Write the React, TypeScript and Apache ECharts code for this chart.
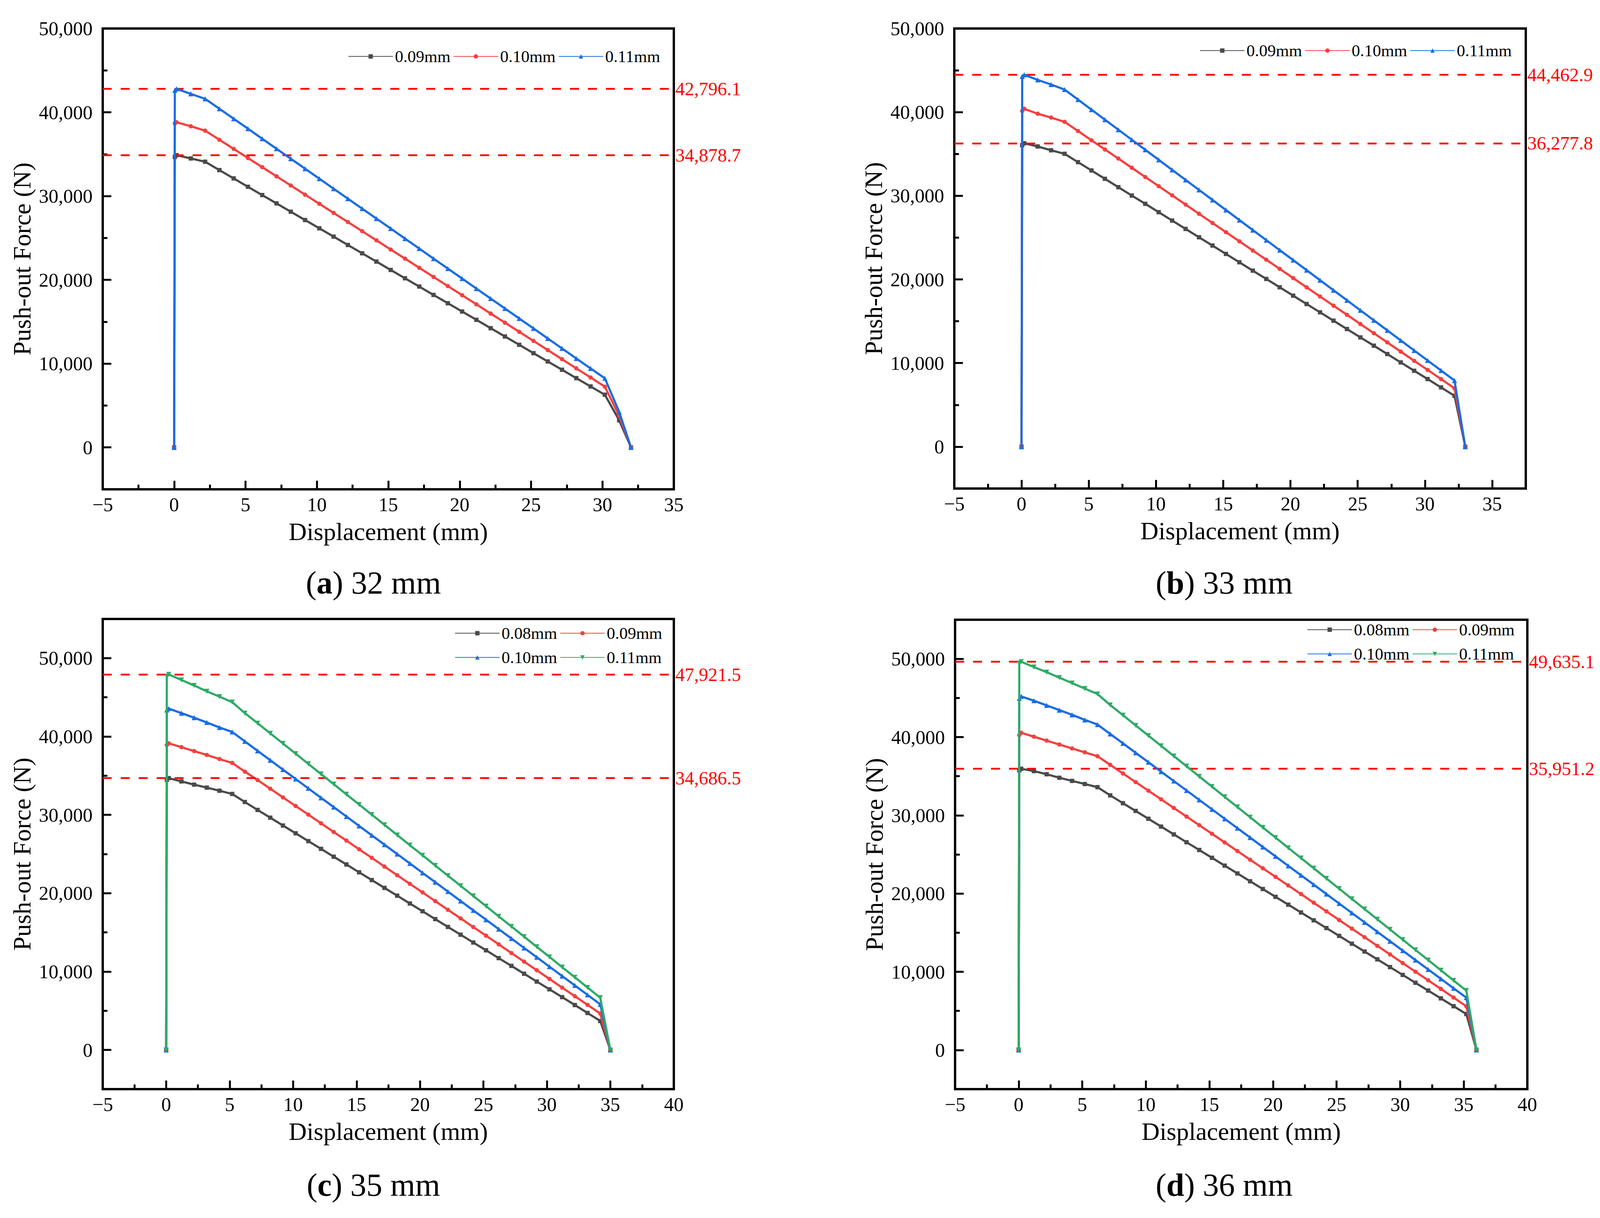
import React, { useEffect, useRef } from 'react';
import * as echarts from 'echarts';

const FONT = 'Liberation Serif';

// ---------- (a) 32 mm ----------
const namesA = ['0.09mm', '0.10mm', '0.11mm'];
const xA = [0, 0.05, 0.17, 1.17, 2.17, 3.17, 4.17, 5.17, 6.17, 7.17, 8.17, 9.17, 10.17, 11.17, 12.17, 13.17, 14.17, 15.17, 16.17, 17.17, 18.17, 19.17, 20.17, 21.17, 22.17, 23.17, 24.17, 25.17, 26.17, 27.17, 28.17, 29.17, 30.17, 31.17, 32];
const a009 = [0, 34670, 34879, 34490, 34100, 33100, 32110, 31110, 30120, 29130, 28130, 27140, 26150, 25160, 24160, 23170, 22180, 21180, 20190, 19200, 18200, 17210, 16220, 15230, 14230, 13240, 12250, 11250, 10260, 9270, 8270, 7280, 6290, 3240, 0];
const a010 = [0, 38670, 38810, 38330, 37810, 36720, 35630, 34540, 33450, 32360, 31260, 30170, 29080, 27990, 26900, 25810, 24720, 23620, 22530, 21440, 20350, 19260, 18170, 17080, 15980, 14890, 13800, 12710, 11620, 10530, 9440, 8340, 7250, 3780, 0];
const a011 = [0, 42620, 42796, 42200, 41610, 40420, 39230, 38040, 36840, 35650, 34460, 33270, 32080, 30880, 29690, 28500, 27310, 26120, 24920, 23730, 22540, 21350, 20160, 18960, 17770, 16580, 15390, 14200, 13000, 11810, 10620, 9430, 8250, 4250, 0];
const peaksA = [42796.1, 34878.7];

// ---------- (b) 33 mm ----------
const namesB = ['0.09mm', '0.10mm', '0.11mm'];
const xB = [0, 0.05, 0.2, 1.2, 2.2, 3.2, 4.2, 5.2, 6.2, 7.2, 8.2, 9.2, 10.2, 11.2, 12.2, 13.2, 14.2, 15.2, 16.2, 17.2, 18.2, 19.2, 20.2, 21.2, 22.2, 23.2, 24.2, 25.2, 26.2, 27.2, 28.2, 29.2, 30.2, 31.2, 32.2, 33];
const b009 = [0, 36050, 36278, 35900, 35440, 35020, 34020, 33030, 32030, 31030, 30030, 29040, 28040, 27040, 26040, 25040, 24050, 23050, 22050, 21050, 20060, 19060, 18060, 17060, 16070, 15070, 14070, 13070, 12080, 11080, 10080, 9080, 8090, 7090, 6090, 0];
const b010 = [0, 40140, 40400, 39810, 39350, 38840, 37740, 36640, 35540, 34450, 33350, 32250, 31150, 30050, 28950, 27850, 26750, 25650, 24560, 23460, 22360, 21260, 20160, 19060, 17960, 16860, 15770, 14670, 13570, 12470, 11370, 10270, 9180, 8080, 6980, 0];
const b011 = [0, 44280, 44463, 43860, 43300, 42700, 41500, 40300, 39100, 37900, 36700, 35500, 34300, 33100, 31900, 30700, 29500, 28300, 27100, 25900, 24700, 23500, 22310, 21110, 19910, 18710, 17510, 16310, 15110, 13910, 12710, 11510, 10310, 9110, 7910, 0];
const peaksB = [44462.9, 36277.8];

// ---------- (c) 35 mm ----------
const namesC = ['0.08mm', '0.09mm', '0.10mm', '0.11mm'];
const xC = [0, 0.05, 0.2, 1.2, 2.2, 3.2, 4.2, 5.2, 6.2, 7.2, 8.2, 9.2, 10.2, 11.2, 12.2, 13.2, 14.2, 15.2, 16.2, 17.2, 18.2, 19.2, 20.2, 21.2, 22.2, 23.2, 24.2, 25.2, 26.2, 27.2, 28.2, 29.2, 30.2, 31.2, 32.2, 33.2, 34.2, 35];
const c008 = [0, 34470, 34687, 34270, 33860, 33480, 33080, 32670, 31640, 30630, 29640, 28640, 27650, 26650, 25660, 24660, 23670, 22670, 21680, 20680, 19690, 18690, 17700, 16700, 15700, 14710, 13710, 12720, 11720, 10730, 9730, 8730, 7740, 6740, 5730, 4720, 3700, 0];
const c009 = [0, 38920, 39130, 38640, 38140, 37640, 37120, 36630, 35520, 34440, 33340, 32230, 31130, 30030, 28920, 27820, 26720, 25610, 24510, 23410, 22300, 21200, 20100, 18990, 17890, 16790, 15680, 14580, 13480, 12370, 11270, 10170, 9060, 7960, 6860, 5750, 4650, 0];
const c010 = [0, 43390, 43560, 42980, 42400, 41790, 41150, 40580, 39380, 38170, 36970, 35780, 34580, 33380, 32180, 30990, 29790, 28590, 27390, 26200, 25000, 23800, 22600, 21410, 20210, 19010, 17810, 16620, 15420, 14220, 13020, 11830, 10630, 9430, 8230, 7030, 5830, 0];
const c011 = [0, 47700, 47922, 47210, 46510, 45770, 45080, 44390, 42980, 41700, 40400, 39110, 37810, 36510, 35210, 33920, 32620, 31320, 30030, 28730, 27430, 26130, 24840, 23540, 22240, 20950, 19650, 18350, 17050, 15760, 14460, 13160, 11870, 10570, 9270, 7970, 6670, 0];
const peaksC = [47921.5, 34686.5];

// ---------- (d) 36 mm ----------
const namesD = ['0.08mm', '0.09mm', '0.10mm', '0.11mm'];
const xD = [0, 0.05, 0.2, 1.2, 2.2, 3.2, 4.2, 5.2, 6.2, 7.2, 8.2, 9.2, 10.2, 11.2, 12.2, 13.2, 14.2, 15.2, 16.2, 17.2, 18.2, 19.2, 20.2, 21.2, 22.2, 23.2, 24.2, 25.2, 26.2, 27.2, 28.2, 29.2, 30.2, 31.2, 32.2, 33.2, 34.2, 35.2, 36];
const d008 = [0, 35750, 35951, 35650, 35250, 34800, 34400, 34000, 33600, 32550, 31550, 30560, 29560, 28560, 27560, 26560, 25570, 24570, 23570, 22570, 21570, 20580, 19580, 18580, 17580, 16580, 15590, 14590, 13590, 12590, 11590, 10600, 9600, 8600, 7600, 6600, 5600, 4600, 0];
const d009 = [0, 40250, 40550, 40050, 39550, 39050, 38550, 38050, 37550, 36450, 35350, 34250, 33150, 32050, 30940, 29840, 28740, 27640, 26540, 25440, 24330, 23230, 22130, 21030, 19930, 18830, 17720, 16620, 15520, 14420, 13320, 12220, 11110, 10010, 8910, 7810, 6710, 5600, 0];
const d010 = [0, 44950, 45200, 44650, 44050, 43450, 42850, 42200, 41600, 40400, 39200, 37990, 36790, 35580, 34380, 33180, 31970, 30770, 29560, 28360, 27160, 25950, 24750, 23540, 22340, 21140, 19930, 18730, 17520, 16320, 15120, 13910, 12710, 11500, 10300, 9100, 7890, 6700, 0];
const d011 = [0, 49450, 49635, 48950, 48300, 47600, 46900, 46200, 45500, 44100, 42800, 41490, 40190, 38880, 37580, 36280, 34970, 33670, 32360, 31060, 29760, 28450, 27150, 25840, 24540, 23240, 21930, 20630, 19320, 18020, 16720, 15410, 14110, 12800, 11500, 10200, 8890, 7600, 0];
const peaksD = [49635.1, 35951.2];

// ---------- ticks ----------
const xMajor35 = [-5, 0, 5, 10, 15, 20, 25, 30, 35];
const xMinor35 = [-2.5, 2.5, 7.5, 12.5, 17.5, 22.5, 27.5, 32.5];
const xMajor40 = [-5, 0, 5, 10, 15, 20, 25, 30, 35, 40];
const xMinor40 = [-2.5, 2.5, 7.5, 12.5, 17.5, 22.5, 27.5, 32.5, 37.5];
const yMajor = [0, 10000, 20000, 30000, 40000, 50000];
const yMinor = [5000, 15000, 25000, 35000, 45000];

const captionLetters = ['a', 'b', 'c', 'd'];
const captionRest = [') 32 mm', ') 33 mm', ') 35 mm', ') 36 mm'];

const COLORS = ['#4a4a4a', '#f5403f', '#1a6de2', '#2faa66'];
const SYMBOLS = ['rect', 'circle', 'triangle', 'triangle'];
const ROTS = [0, 0, 0, 180];
const SIZES = [11, 11, 13, 13];

const panels = [
  { pos: [0, 0], grid: { left: 263, top: 73, width: 1462, height: 1180 }, xMax: 35, xMaj: xMajor35, xMin: xMinor35, yMax: 50000, x: xA, names: namesA, ys: [a009, a010, a011], peaks: peaksA, legend: { left: 891, top: 117, width: 900 }, cap: [956, 1492] },
  { pos: [2055, 0], grid: { left: 388, top: 73, width: 1463, height: 1178 }, xMax: 37.5, xMaj: xMajor35, xMin: xMinor35, yMax: 50000, x: xB, names: namesB, ys: [b009, b010, b011], peaks: peaksB, legend: { left: 1016, top: 102, width: 900 }, cap: [1079, 1492] },
  { pos: [0, 1560], grid: { left: 263, top: 25, width: 1462, height: 1204 }, xMax: 40, xMaj: xMajor40, xMin: xMinor40, yMax: 55000, x: xC, names: namesC, ys: [c008, c009, c010, c011], peaks: peaksC, legend: { left: 1164, top: 34, width: 560 }, cap: [956, 1474] },
  { pos: [2055, 1560], grid: { left: 390, top: 27, width: 1465, height: 1202 }, xMax: 40, xMaj: xMajor40, xMin: xMinor40, yMax: 55000, x: xD, names: namesD, ys: [d008, d009, d010, d011], peaks: peaksD, legend: { left: 1291, top: 25, width: 560 }, cap: [1079, 1474] },
];

const fmtX = (v: number) => (v < 0 ? '\u2212' + Math.abs(v) : String(v));
const fmtY = (v: number) => Number(v).toLocaleString('en-US');
const fmtPeak = (v: number) => v.toLocaleString('en-US', { minimumFractionDigits: 1, maximumFractionDigits: 1 });

function buildOption(p: any, idx: number) {
  const tickStyle = { color: '#000', width: 5 };
  const series = p.names.map((name: string, i: number) => ({
    name,
    type: 'line',
    xAxisIndex: 0,
    yAxisIndex: 0,
    data: p.x.map((xv: number, j: number) => [xv, p.ys[i][j]]),
    symbol: SYMBOLS[i],
    symbolSize: SIZES[i],
    symbolRotate: ROTS[i],
    showAllSymbol: true,
    clip: false,
    z: 3 + i,
    lineStyle: { color: COLORS[i], width: 5.5 },
    itemStyle: { color: COLORS[i] },
    emphasis: { disabled: true },
    markLine: i === 0 ? {
      silent: true,
      symbol: 'none',
      lineStyle: { color: '#ff0000', type: [23, 23], width: 4.5 },
      label: { show: true, position: 'end', distance: 4, color: '#ff0000', fontSize: 48, fontFamily: FONT },
      data: p.peaks.map((v: number) => ({ yAxis: v, label: { formatter: fmtPeak(v) } })),
    } : undefined,
  }));

  const xBase = { type: 'value', gridIndex: 0, min: -5, max: p.xMax, position: 'bottom', splitLine: { show: false } };
  const yBase = { type: 'value', gridIndex: 0, min: -5000, max: p.yMax, position: 'left', splitLine: { show: false } };

  return {
    animation: false,
    grid: { ...p.grid, show: true, borderColor: '#000', borderWidth: 6, containLabel: false },
    legend: {
      left: p.legend.left, top: p.legend.top, width: p.legend.width,
      orient: 'horizontal', padding: 0, itemWidth: 114, itemHeight: 14, itemGap: 7,
      selectedMode: false,
      textStyle: { fontSize: 43, fontFamily: FONT, color: '#000', lineHeight: 55 },
      data: p.names,
    },
    xAxis: [
      {
        ...xBase,
        name: 'Displacement (mm)', nameLocation: 'middle', nameGap: 76,
        nameTextStyle: { fontSize: 64, fontFamily: FONT, color: '#000' },
        axisLine: { show: true, onZero: false, lineStyle: { color: '#000', width: 6 } },
        axisTick: { show: true, inside: true, length: 22, lineStyle: tickStyle, customValues: p.xMaj },
        axisLabel: { show: true, customValues: p.xMaj, formatter: fmtX, fontSize: 50, fontFamily: FONT, color: '#000', margin: 14 },
      },
      {
        ...xBase,
        axisLine: { show: false, onZero: false },
        axisTick: { show: true, inside: true, length: 12, lineStyle: tickStyle, customValues: p.xMin },
        axisLabel: { show: false },
      },
    ],
    yAxis: [
      {
        ...yBase,
        name: 'Push-out Force (N)', nameLocation: 'middle', nameGap: 166,
        nameTextStyle: { fontSize: 64, fontFamily: FONT, color: '#000' },
        axisLine: { show: true, onZero: false, lineStyle: { color: '#000', width: 6 } },
        axisTick: { show: true, inside: true, length: 22, lineStyle: tickStyle, customValues: yMajor },
        axisLabel: { show: true, customValues: yMajor, formatter: fmtY, fontSize: 50, fontFamily: FONT, color: '#000', margin: 26 },
      },
      {
        ...yBase,
        axisLine: { show: false, onZero: false },
        axisTick: { show: true, inside: true, length: 12, lineStyle: tickStyle, customValues: yMinor },
        axisLabel: { show: false },
      },
    ],
    graphic: [
      {
        type: 'text',
        x: p.cap[0],
        y: p.cap[1],
        style: {
          text: '{n|(}{b|' + captionLetters[idx] + '}{n|' + captionRest[idx] + '}',
          align: 'center',
          verticalAlign: 'middle',
          fill: '#000',
          fontSize: 82,
          fontFamily: FONT,
          rich: {
            n: { fontSize: 82, fontFamily: FONT, fill: '#000', color: '#000' },
            b: { fontSize: 82, fontFamily: FONT, fontWeight: 'bold', fill: '#000', color: '#000' },
          },
        },
      },
    ],
    series,
  };
}

function Panel({ p, idx }: { p: any; idx: number }) {
  const ref = useRef<HTMLDivElement>(null);
  useEffect(() => {
    if (!ref.current) return;
    const chart = echarts.init(ref.current, undefined, { renderer: 'svg' });
    chart.setOption(buildOption(p, idx) as any);
    return () => chart.dispose();
  }, [p, idx]);
  return (
    <div
      ref={ref}
      style={{ position: 'absolute', left: p.pos[0], top: p.pos[1], width: 2056, height: 1560 }}
    />
  );
}

export default function App() {
  return (
    <div style={{ position: 'absolute', left: 0, top: 0, width: 4111, height: 3119, background: '#fff' }}>
      {panels.map((p, i) => (
        <Panel key={i} p={p} idx={i} />
      ))}
    </div>
  );
}
